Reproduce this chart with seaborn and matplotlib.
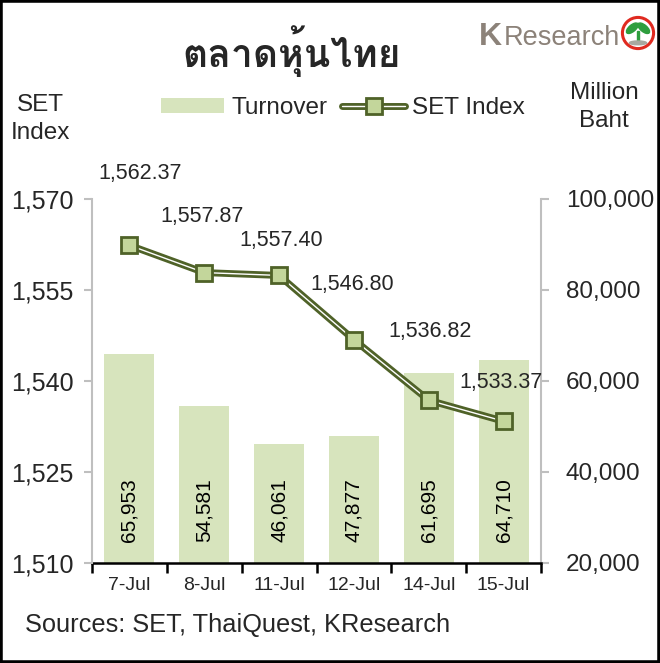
import numpy as np
import matplotlib
matplotlib.use("Agg")
import matplotlib.pyplot as plt
import seaborn as sns
from matplotlib import font_manager, ft2font
from matplotlib.font_manager import FontProperties
from matplotlib.patches import Patch, Rectangle, Circle, Ellipse
from matplotlib.lines import Line2D
from matplotlib.legend_handler import HandlerTuple
from matplotlib.ticker import FuncFormatter

# === Data ===
dates = ["7-Jul", "8-Jul", "11-Jul", "12-Jul", "14-Jul", "15-Jul"]
turnover = [65953, 54581, 46061, 47877, 61695, 64710]
set_index = [1562.37, 1557.87, 1557.40, 1546.80, 1536.82, 1533.37]

index_ticks = [1510, 1525, 1540, 1555, 1570]
turnover_ticks = [20000, 40000, 60000, 80000, 100000]

# label offsets for SET index values (pixels, hand placed like the original)
label_offsets = [(11, 72), (-2, 56), (2, 35), (-2, 55), (1, 69), (-3, 39)]

# === Colours ===
BAR = "#d7e4bd"
OLIVE = "#4f6228"
MARK = "#c3d69b"
GRAY = "#bfbfbf"


# === Find a font that can draw Thai ===
def find_thai_font():
    found = []
    for f in font_manager.fontManager.ttflist:
        try:
            cmap = ft2font.FT2Font(f.fname).get_charmap()
        except Exception:
            continue
        if 0x0E15 in cmap and 0x0E2B in cmap:
            w = f.weight if isinstance(f.weight, int) else (700 if "bold" in str(f.weight).lower() else 400)
            looped = "looped" in (f.name + f.fname).lower()
            cond = any(k in (f.name + f.fname).lower() for k in ["condensed", "black", "extra", "ui"])
            found.append((looped, cond, abs(w - 700), f.fname))
    if not found:
        return None
    found.sort()
    return found[0][3]


sns.set_theme(style="white")
plt.rcParams["font.family"] = ["Liberation Sans", "DejaVu Sans"]

fig = plt.figure(figsize=(6.6, 6.63), dpi=100)
W, H = 660, 663

ax = fig.add_axes([92 / W, 1 - 563 / H, (541 - 92) / W, (563 - 199) / H])
xs = np.arange(len(dates))

# bars (right axis, million baht)
sns.barplot(x=dates, y=turnover, ax=ax, color=BAR, saturation=1, width=0.67,
            edgecolor="none", linewidth=0)
ax.set_ylim(20000, 100000)
ax.set_yticks(turnover_ticks)
ax.yaxis.set_major_formatter(FuncFormatter(lambda v, p: f"{v:,.0f}"))
ax.set_xlim(-0.5, len(dates) - 0.5)
ax.set_xlabel("")
ax.set_ylabel("")

for i, v in enumerate(turnover):
    ax.text(i, 31650, f"{v:,.0f}", rotation=90, ha="center", va="center",
            fontsize=15, color="black")

# line (left axis, SET index)
ax2 = ax.twinx()
sns.lineplot(x=xs, y=set_index, ax=ax2, color=OLIVE, lw=5, legend=False)
sns.lineplot(x=xs, y=set_index, ax=ax2, color="white", lw=1.0, legend=False)
ax2.plot(xs, set_index, ls="none", marker="s", ms=11, mfc=MARK, mec=OLIVE, mew=2)
ax2.set_ylim(1510, 1570)
ax2.set_yticks(index_ticks)
ax2.yaxis.set_major_formatter(FuncFormatter(lambda v, p: f"{v:,.0f}"))
ax2.yaxis.tick_left()
ax2.set_ylabel("")
ax.yaxis.tick_right()

for i, v in enumerate(set_index):
    dx, dy = label_offsets[i]
    ax2.annotate(f"{v:,.2f}", (i, v), xytext=(dx * 0.72, dy * 0.72),
                 textcoords="offset points", ha="center", va="center", fontsize=15.5)

# spines and ticks
for s in ["top", "left"]:
    ax.spines[s].set_visible(False)
ax.spines["right"].set_color(GRAY)
ax.spines["right"].set_linewidth(1.5)
ax.spines["bottom"].set_color("black")
ax.spines["bottom"].set_linewidth(1.8)
for s in ["top", "bottom", "right"]:
    ax2.spines[s].set_visible(False)
ax2.spines["left"].set_color(GRAY)
ax2.spines["left"].set_linewidth(1.5)

ax.tick_params(axis="y", which="both", direction="out", length=6, width=1.5,
               color=GRAY, labelsize=17.5, pad=12, right=True, left=False,
               labelright=True, labelleft=False)
ax2.tick_params(axis="y", direction="out", length=6, width=1.5, color=GRAY,
                labelsize=18, pad=7, left=True, right=False,
                labelleft=True, labelright=False)
ax.set_xticks(xs)
ax.set_xticklabels(dates)
ax.set_xticks(np.arange(-0.5, len(dates), 1.0), minor=True)
ax.tick_params(axis="x", which="major", length=0, labelsize=14, pad=10)
ax.tick_params(axis="x", which="minor", length=7, width=1.8, color="black",
               direction="out", bottom=True)

# legend
h_bar = Patch(facecolor=BAR, edgecolor="none")
h_line = (Line2D([], [], color=OLIVE, lw=5),
          Line2D([], [], color="white", lw=1.0),
          Line2D([], [], ls="none", marker="s", ms=11, mfc=MARK, mec=OLIVE, mew=2))
fig.legend([h_bar, h_line], ["Turnover", "SET Index"],
           handler_map={tuple: HandlerTuple(ndivide=1)},
           loc="center", bbox_to_anchor=(343 / W, 1 - 108 / H), ncol=2,
           frameon=False, fontsize=17.5, handlelength=2.6, handleheight=0.55,
           handletextpad=0.3, columnspacing=0.6)

# axis titles
fig.text(40 / W, 1 - 119 / H, "SET\nIndex", ha="center", va="center",
         fontsize=17.5, linespacing=1.4)
fig.text(604 / W, 1 - 107 / H, "Million\nBaht", ha="center", va="center",
         fontsize=17.5, linespacing=1.4)

# title (Thai)
thai_path = find_thai_font()
if thai_path:
    tprop = FontProperties(fname=thai_path, size=28)
else:
    tprop = FontProperties(family="DejaVu Sans", size=28, weight="bold")
fig.text(292 / W, 1 - 51 / H, "ตลาดหุ้นไทย", ha="center", va="center",
         fontproperties=tprop)

# sources
fig.text(25 / W, 1 - 625 / H, "Sources: SET, ThaiQuest, KResearch",
         ha="left", va="center", fontsize=18.3)

# logo
LOGO = "#8c8279"
fig.text(479 / W, 1 - 45 / H, "K", ha="left", va="baseline", fontsize=23,
         weight="bold", color=LOGO)
fig.text(504 / W, 1 - 45 / H, "Research", ha="left", va="baseline",
         fontsize=19.5, color=LOGO)
lax = fig.add_axes([619 / W, 1 - 52 / H, 38 / W, 38 / H])
lax.set_xlim(-1, 1)
lax.set_ylim(-1, 1)
lax.axis("off")
lax.add_patch(Circle((0, 0), 0.82, facecolor="white", edgecolor="#e02a20", lw=2.2))
lax.add_patch(Ellipse((-0.3, 0.25), 0.75, 0.35, angle=40, color="#2e9e3e"))
lax.add_patch(Ellipse((0.3, 0.25), 0.75, 0.35, angle=-40, color="#2e9e3e"))
lax.add_patch(Rectangle((-0.07, -0.5), 0.14, 0.6, color="#2e9e3e"))
lax.add_patch(Ellipse((0, -0.52), 0.9, 0.2, color="#a8a8a0"))

# frame around the whole picture
fig.add_artist(Rectangle((0, 0), 1, 1, transform=fig.transFigure, fill=False,
                         edgecolor="black", lw=4))

fig.savefig("out.png", dpi=100)
